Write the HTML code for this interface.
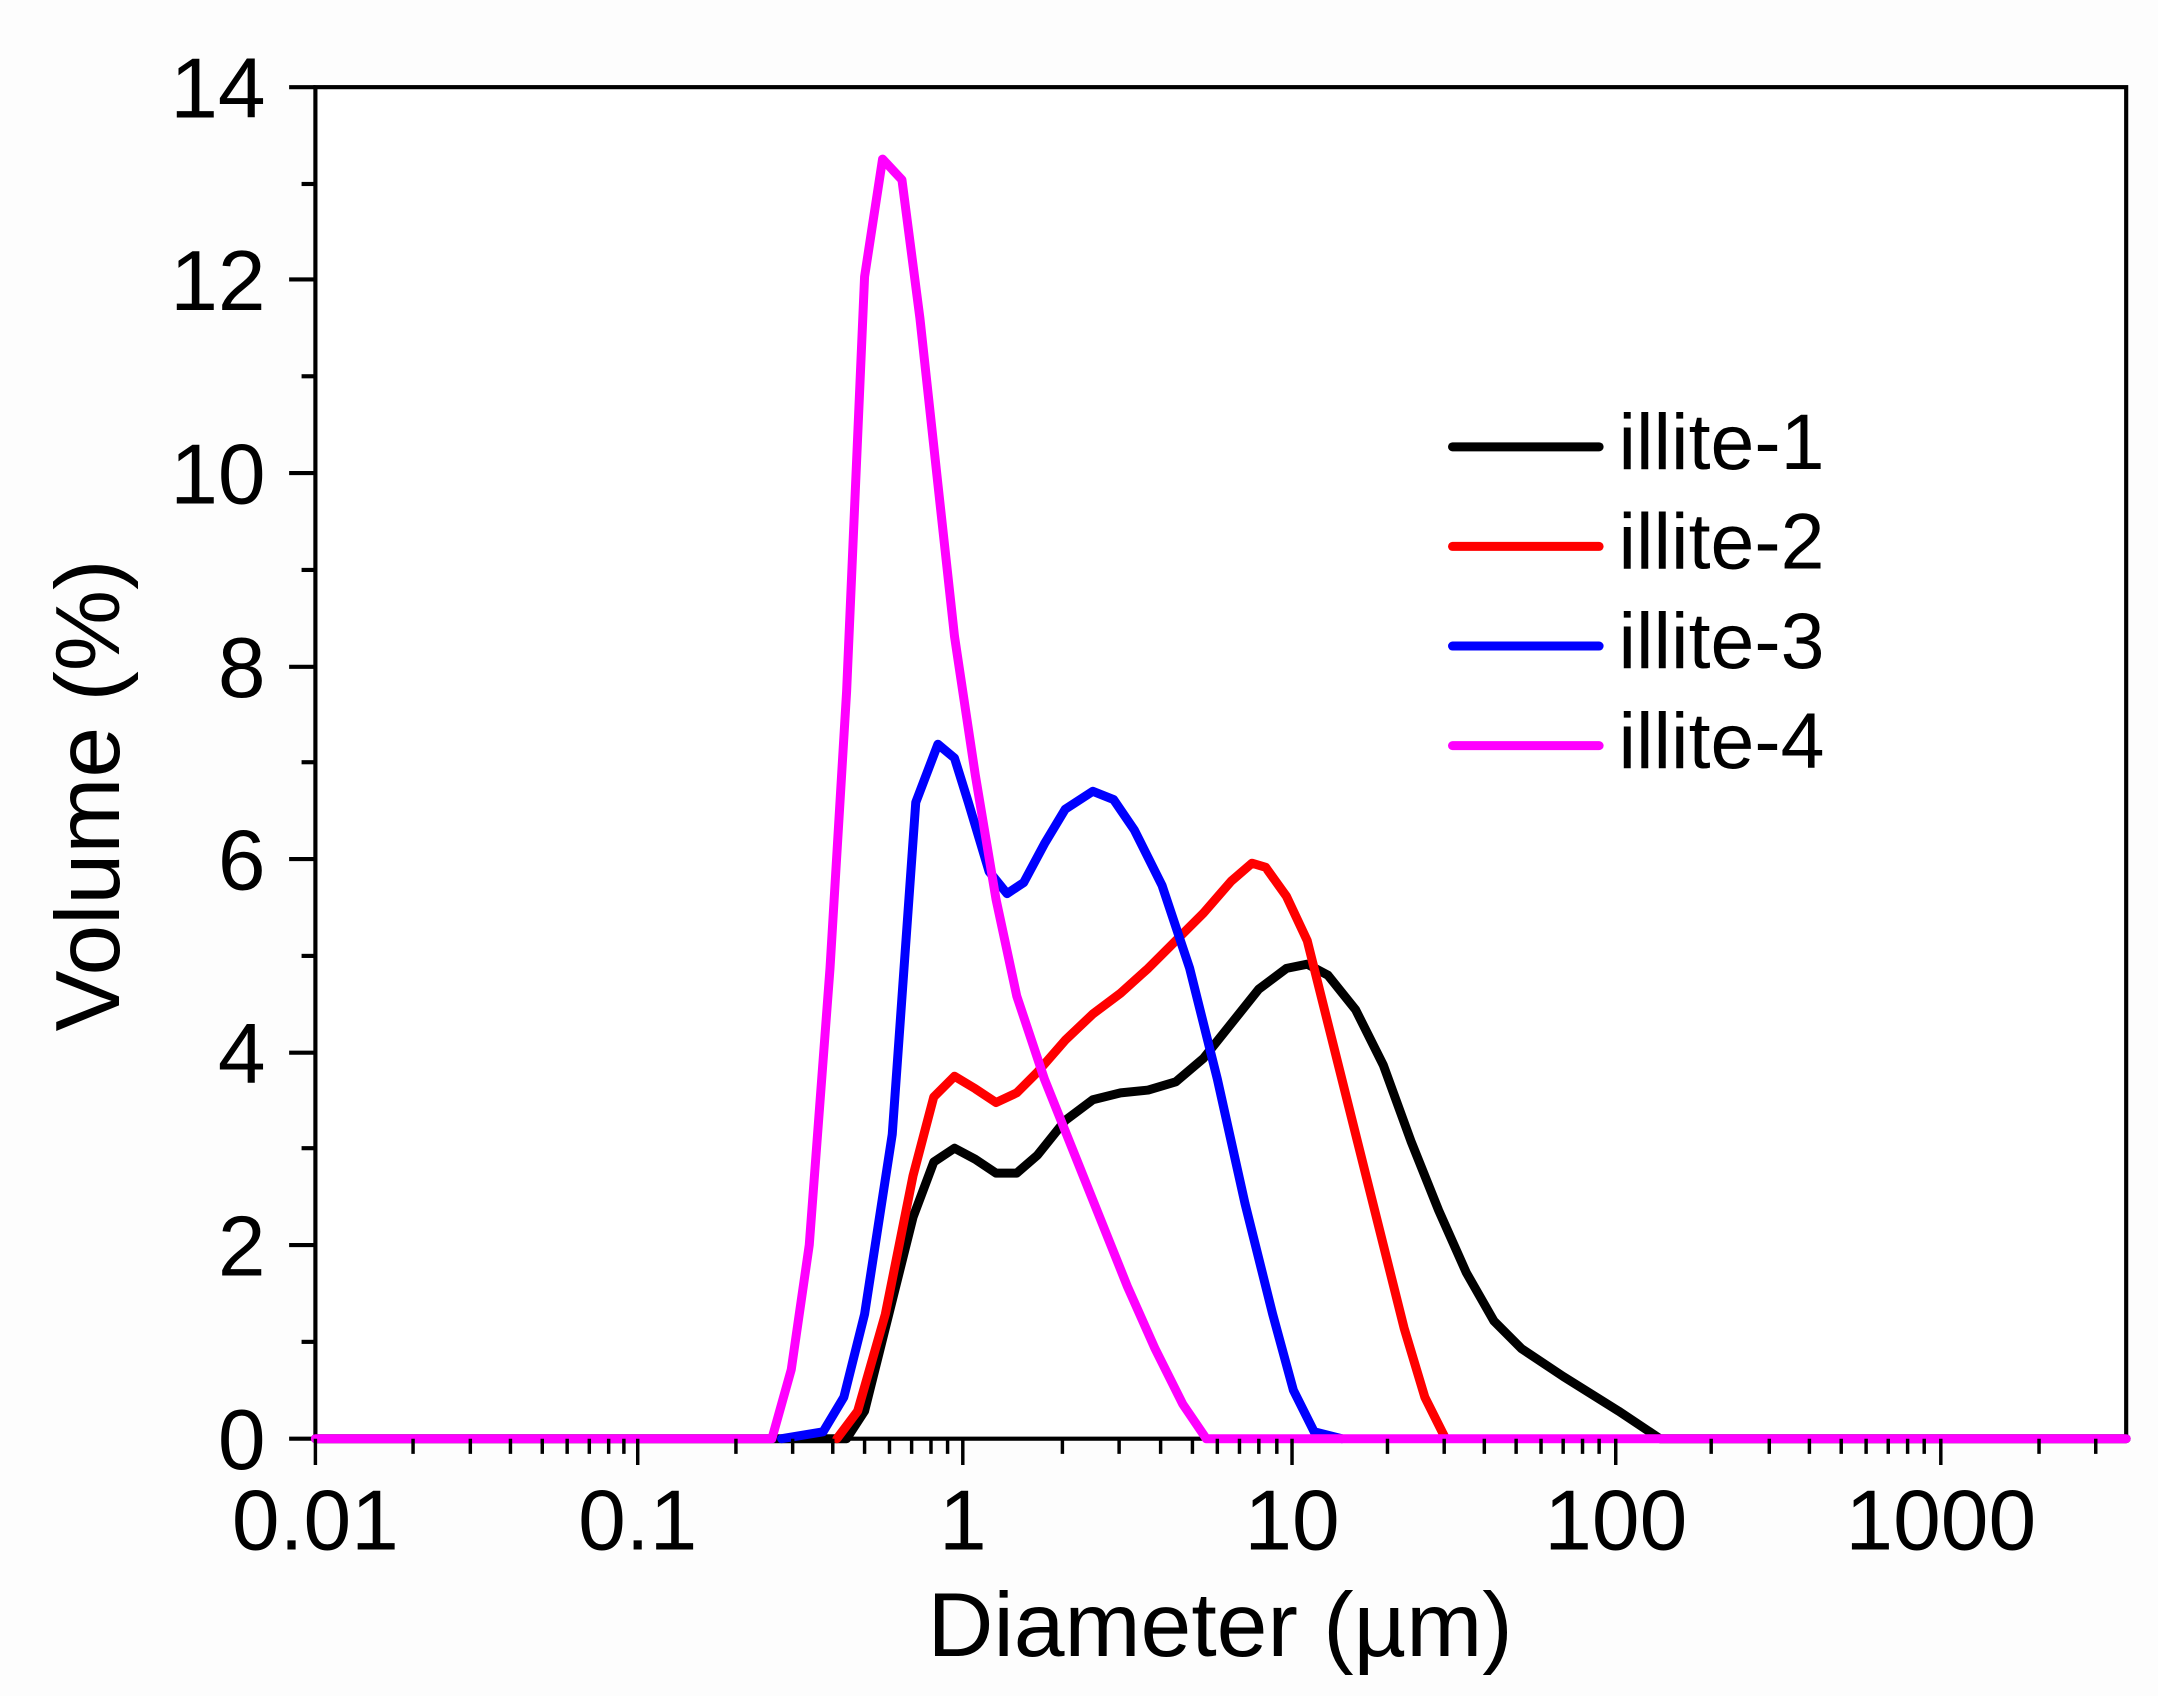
<!DOCTYPE html>
<html><head><meta charset="utf-8"><style>
html,body{margin:0;padding:0;background:#fff;}
svg{display:block;}
text{font-family:"Liberation Sans",Arial,sans-serif;fill:#000;}
</style></head><body>
<svg width="2158" height="1696" viewBox="0 0 1560 1226" preserveAspectRatio="none" xmlns="http://www.w3.org/2000/svg">
<rect width="1560" height="1226" fill="#fdfdfd"/>
<rect x="228" y="63" width="1309" height="977" fill="#fff" stroke="#000" stroke-width="3"/>
<g stroke="#000" stroke-width="3">
<line x1="209" y1="1040" x2="228" y2="1040"/><line x1="218" y1="970" x2="228" y2="970"/>
<line x1="209" y1="900" x2="228" y2="900"/><line x1="218" y1="830" x2="228" y2="830"/>
<line x1="209" y1="761" x2="228" y2="761"/><line x1="218" y1="691" x2="228" y2="691"/>
<line x1="209" y1="621" x2="228" y2="621"/><line x1="218" y1="551" x2="228" y2="551"/>
<line x1="209" y1="482" x2="228" y2="482"/><line x1="218" y1="412" x2="228" y2="412"/>
<line x1="209" y1="342" x2="228" y2="342"/><line x1="218" y1="272" x2="228" y2="272"/>
<line x1="209" y1="202" x2="228" y2="202"/><line x1="218" y1="133" x2="228" y2="133"/>
<line x1="209" y1="63" x2="228" y2="63"/>
</g>
<g font-size="62" text-anchor="end">
<text x="192" y="1062">0</text><text x="192" y="922">2</text><text x="192" y="783">4</text>
<text x="192" y="643">6</text><text x="192" y="504">8</text><text x="192" y="364">10</text>
<text x="192" y="224">12</text><text x="192" y="85">14</text>
</g>
<g font-size="62" text-anchor="middle">
<text x="228" y="1120">0.01</text><text x="461" y="1120">0.1</text><text x="696" y="1120">1</text>
<text x="934" y="1120">10</text><text x="1168" y="1120">100</text><text x="1403" y="1120">1000</text>
</g>
<text x="882" y="1197" font-size="66" text-anchor="middle">Diameter (µm)</text>
<text transform="translate(86,575) rotate(-90)" font-size="66" text-anchor="middle">Volume (%)</text>
<g fill="none" stroke-width="6.5" stroke-linejoin="round" stroke-linecap="round">
<polyline stroke="#000" points="228,1040 612,1040 625,1020 640,960 660,880 675,840 690,830 705,838 720,848 735,848 750,835 770,810 790,795 810,790 830,788 850,782 870,765 890,740 910,715 930,700 945,697 960,705 980,730 1000,770 1020,825 1040,875 1060,920 1080,955 1100,975 1130,995 1170,1020 1200,1040 1537,1040"/>
<polyline stroke="#f00" points="605,1040 620,1020 640,950 660,850 675,793 690,778 705,787 720,797 735,790 750,775 770,752 790,733 810,718 830,700 850,680 870,660 890,637 905,624 915,627 930,648 945,680 960,740 980,820 1000,900 1015,960 1030,1010 1045,1040"/>
<polyline stroke="#00f" points="565,1040 595,1035 610,1010 625,950 645,820 662,580 678,538 690,548 700,580 715,630 728,646 740,638 755,610 770,585 790,572 805,578 820,600 840,640 860,700 880,780 900,870 920,950 935,1005 950,1035 970,1040"/>
<polyline stroke="#f0f" points="228,1040 558,1040 572,990 585,900 600,700 612,500 625,200 638,115 652,130 665,230 678,350 690,460 705,560 720,650 735,720 755,780 775,830 795,880 815,930 835,975 855,1015 872,1040 1537,1040"/>
</g>
<g stroke-width="6.5" stroke-linecap="round">
<line x1="1050" y1="323" x2="1156" y2="323" stroke="#000"/>
<line x1="1050" y1="395" x2="1156" y2="395" stroke="#f00"/>
<line x1="1050" y1="467" x2="1156" y2="467" stroke="#00f"/>
<line x1="1050" y1="539" x2="1156" y2="539" stroke="#f0f"/>
</g>
<g font-size="57">
<text x="1170" y="339">illite-1</text><text x="1170" y="411">illite-2</text>
<text x="1170" y="483">illite-3</text><text x="1170" y="555">illite-4</text>
</g>
<g stroke="#000" stroke-width="2.5">
<path d="M228 1040v19M461 1040v19M696 1040v19M934 1040v19M1168 1040v19M1403 1040v19"/>
<path d="M298.6 1040v11M340 1040v11M369 1040v11M392 1040v11M410 1040v11M426 1040v11M440 1040v11M451 1040v11
M532 1040v11M573 1040v11M602 1040v11M625 1040v11M643 1040v11M659 1040v11M673 1040v11M685 1040v11
M768 1040v11M809 1040v11M839 1040v11M862 1040v11M880 1040v11M896 1040v11M910 1040v11M923 1040v11
M1003 1040v11M1044 1040v11M1073 1040v11M1096 1040v11M1114 1040v11M1130 1040v11M1144 1040v11M1156 1040v11
M1237 1040v11M1279 1040v11M1308 1040v11M1331 1040v11M1349 1040v11M1365 1040v11M1379 1040v11M1391 1040v11
M1474 1040v11M1515 1040v11"/>
</g>
</svg>
</body></html>
